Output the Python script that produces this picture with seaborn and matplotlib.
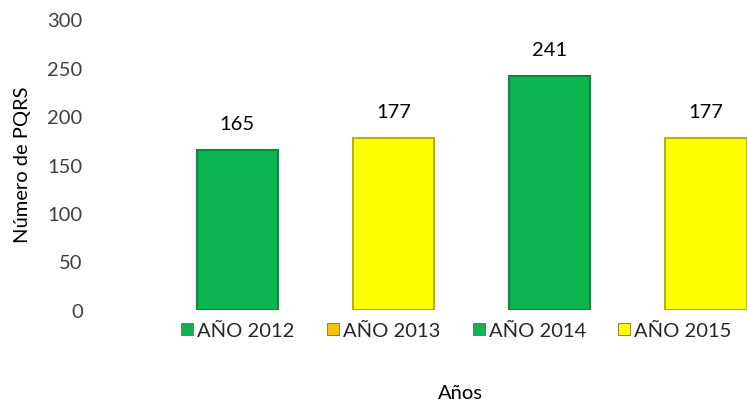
import seaborn as sns
import matplotlib.pyplot as plt
from matplotlib.patches import Patch

anios = ['AÑO 2012', 'AÑO 2013', 'AÑO 2014', 'AÑO 2015']
pqrs = [165, 177, 241, 177]
colores = ['#0BB550', '#FFFF00', '#0BB550', '#FFFF00']
bordes = ['#078A3C', '#B5B500', '#078A3C', '#B5B500']
colores_leyenda = ['#0BB550', '#FFC000', '#0BB550', '#FFFF00']

sns.set_style('white')
plt.rcParams['font.family'] = ['Lato', 'DejaVu Sans']

fig = plt.figure(figsize=(7.47, 4.02), dpi=100)
ax = fig.add_axes([0.2129, 0.2264, 0.8367, 0.7238])

sns.barplot(x=anios, y=pqrs, hue=anios, palette=colores, legend=False,
            width=0.52, ax=ax, saturation=1)

for barra, borde in zip(ax.patches, bordes):
    barra.set_edgecolor(borde)
    barra.set_linewidth(1.5)

for i, v in enumerate(pqrs):
    ax.annotate(str(v), (i, v), xytext=(0, 19), textcoords='offset points',
                ha='center', va='center', fontsize=14.5, color='#000000')

ax.set_xlim(-0.5, 3.5)
ax.set_ylim(0, 300)
ax.set_yticks(range(0, 301, 50))
ax.tick_params(axis='y', labelsize=14.5, labelcolor='#404040', length=0, pad=55)
ax.set_xticks([])
ax.set_xlabel('')
ax.set_ylabel('')
sns.despine(ax=ax, left=True, bottom=True)

fig.text(0.030, 0.59, 'Número de PQRS', rotation=90, ha='center', va='center',
         fontsize=14.5, color='#000000')
fig.text(0.617, 0.022, 'Años', ha='center', va='center', fontsize=14.5, color='#000000')

manijas = [Patch(facecolor=c, edgecolor='#555555', linewidth=0.5) for c in colores_leyenda]
fig.legend(manijas, anios, loc='center', bbox_to_anchor=(0.611, 0.175), ncol=4,
           frameon=False, fontsize=14.5, handlelength=0.6, handleheight=0.6,
           handletextpad=0.2, columnspacing=1.6)

fig.savefig('out.png', dpi=100)
